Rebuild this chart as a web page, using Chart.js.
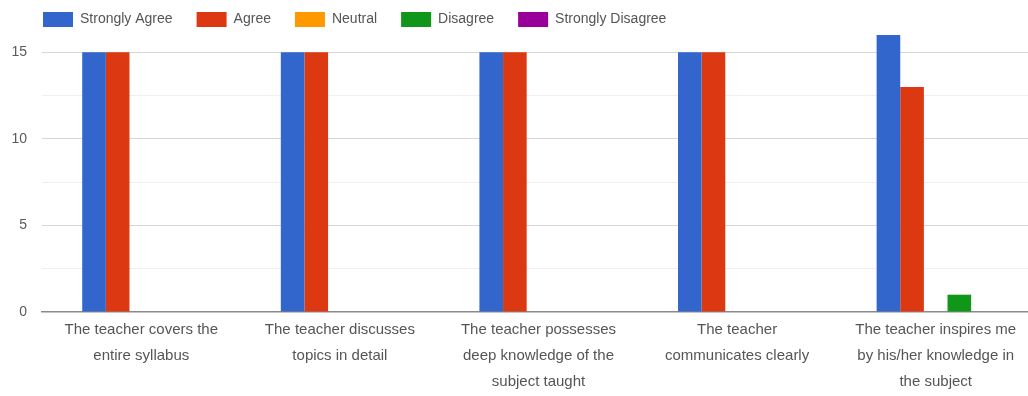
<!DOCTYPE html>
<html>
<head>
<meta charset="utf-8">
<script src="https://cdn.jsdelivr.net/npm/chart.js@4"></script>
<style>
  html, body { margin: 0; padding: 0; background: #ffffff; overflow: hidden; }
  #wrap { position: relative; width: 1035px; height: 396px; }
</style>
</head>
<body>
<div id="wrap"><canvas id="c" width="1035" height="396"></canvas></div>
<script>
const categories = [
  ["The teacher covers the", "entire syllabus"],
  ["The teacher discusses", "topics in detail"],
  ["The teacher possesses", "deep knowledge of the", "subject taught"],
  ["The teacher", "communicates clearly"],
  ["The teacher inspires me", "by his/her knowledge in", "the subject"]
];
const seriesNames = ["Strongly Agree", "Agree", "Neutral", "Disagree", "Strongly Disagree"];
const seriesColors = ["#3366cc", "#dc3912", "#ff9900", "#109618", "#990099"];
const stronglyAgree = [15, 15, 15, 15, 16];
const agree = [15, 15, 15, 15, 13];
const neutral = [0, 0, 0, 0, 0];
const disagree = [0, 0, 0, 0, 1];
const stronglyDisagree = [0, 0, 0, 0, 0];
const yMin = 0;
const yMax = 16;
const yStep = 2.5;
const yLabelStep = 5;

const seriesValues = [stronglyAgree, agree, neutral, disagree, stronglyDisagree];

Chart.defaults.font.family = "'Liberation Sans', Arial, sans-serif";

const legendPlacePlugin = {
  id: 'legendPlace',
  beforeInit(chart) {
    const lg = chart.legend;
    const origFit = lg.fit;
    lg.fit = function () {
      origFit.call(this);
      this.height = 47;
    };
    const origDraw = lg.draw;
    lg.draw = function (...args) {
      const ctx = this.ctx;
      ctx.save();
      ctx.translate(19, 0);
      origDraw.apply(this, args);
      ctx.restore();
    };
  }
};

new Chart(document.getElementById('c'), {
  type: 'bar',
  data: {
    labels: categories,
    datasets: seriesNames.map((name, i) => ({
      label: name,
      data: seriesValues[i],
      backgroundColor: seriesColors[i],
      borderWidth: 0,
      categoryPercentage: 0.595,
      barPercentage: 1.0
    }))
  },
  options: {
    responsive: false,
    animation: false,
    layout: { padding: { left: 0, top: -12, right: 0, bottom: 0 } },
    plugins: {
      tooltip: { enabled: false },
      legend: {
        position: 'top',
        align: 'start',
        labels: {
          boxWidth: 30,
          boxHeight: 15,
          padding: 24,
          color: '#555555',
          font: { size: 14 }
        }
      }
    },
    scales: {
      x: {
        grid: { display: false, drawTicks: false },
        border: { display: true, color: '#8a8a8a', width: 1.5 },
        ticks: {
          color: '#555555',
          font: { size: 15, lineHeight: 26 / 15 },
          padding: 5,
          maxRotation: 0,
          minRotation: 0,
          autoSkip: false
        },
        afterFit(scale) { scale.height = 84; }
      },
      y: {
        min: yMin,
        max: yMax,
        border: { display: false },
        grid: {
          drawTicks: false,
          color: (ctx) => {
            const v = ctx.tick ? ctx.tick.value : null;
            if (v === null || v === 0 || v > 15) return 'rgba(0,0,0,0)';
            return (v % yLabelStep === 0) ? '#d6d6d6' : '#efefef';
          },
          lineWidth: 1
        },
        ticks: {
          stepSize: yStep,
          includeBounds: false,
          color: '#5a5a5a',
          font: { size: 14 },
          padding: 15,
          callback: (v) => (v % yLabelStep === 0 ? String(v) : '')
        },
        afterFit(scale) { scale.width = 42; }
      }
    }
  },
  plugins: [legendPlacePlugin]
});
</script>
</body>
</html>
